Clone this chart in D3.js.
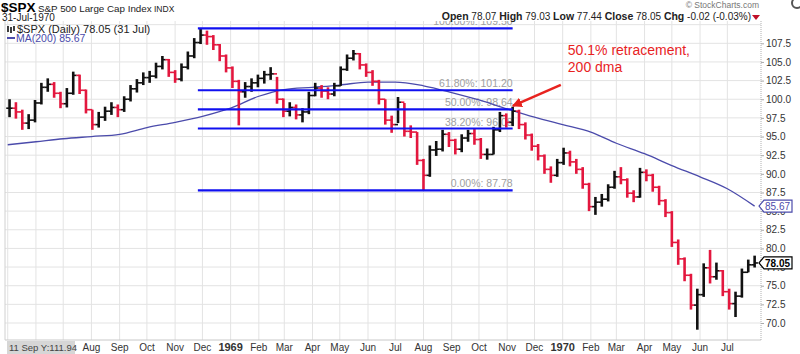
<!DOCTYPE html>
<html>
<head>
<meta charset="utf-8">
<script src="https://cdn.jsdelivr.net/npm/d3@7"></script>
<style>
  body { margin: 0; background: #fff; }
  svg { display: block; font-family: Arial, "Liberation Sans", sans-serif; }
</style>
</head>
<body>
<svg id="chart" width="800" height="354"></svg>
<script>
// weekly bars, first week ends Fri 3 May 1968, last ends Fri 31 Jul 1970
const firstWeek = new Date(1968, 4, 3);

const highs = [
  100.0, 99.6, 98.6, 98.0, 99.9, 102.2, 102.8, 102.3, 101.0, 101.5,
  103.7, 103.3, 101.3, 98.6, 98.3, 99.0, 99.6, 99.3, 100.4, 101.9,
  102.7, 103.6, 103.8, 104.9, 105.8, 105.4, 103.9, 104.8, 106.4, 108.2,
  109.5, 109.2, 108.6, 107.4, 106.0, 104.4, 102.6, 102.3, 102.8, 103.3,
  103.8, 104.3, 103.0, 100.1, 99.6, 99.3, 98.8, 101.0, 102.2, 101.9,
  101.6, 102.2, 104.4, 106.0, 106.6, 106.2, 104.8, 103.9, 102.6, 100.0,
  97.8, 100.3, 99.5, 96.5, 95.6, 92.0, 93.8, 94.4, 95.9, 95.6,
  94.7, 95.3, 95.9, 96.1, 94.8, 93.4, 96.3, 98.3, 98.1, 99.0,
  98.6, 96.9, 95.4, 94.0, 92.6, 91.0, 92.0, 93.5, 93.1, 92.0,
  90.9, 88.8, 86.9, 87.3, 88.6, 90.4, 90.9, 89.4, 87.8, 90.8,
  90.6, 90.0, 88.4, 86.6, 85.0, 81.2, 78.8, 76.6, 74.6, 78.0,
  79.8, 78.1, 77.1, 74.6, 74.2, 77.3, 78.5, 79.03
];
const lows = [
  97.6, 97.4, 95.9, 96.0, 96.9, 99.3, 101.0, 100.2, 98.8, 98.9,
  100.6, 100.7, 98.1, 95.9, 96.2, 97.1, 97.9, 97.6, 98.3, 99.7,
  100.9, 101.9, 102.2, 102.8, 104.0, 103.0, 102.2, 102.4, 104.0, 105.5,
  107.4, 107.3, 106.6, 105.1, 103.6, 101.5, 96.5, 100.2, 101.0, 101.6,
  102.1, 102.6, 99.4, 97.6, 97.7, 97.3, 96.9, 98.0, 100.4, 100.2,
  100.0, 100.4, 101.8, 103.8, 105.2, 104.0, 103.0, 101.8, 99.3, 96.6,
  95.5, 96.8, 95.0, 94.8, 91.2, 87.78, 89.6, 92.4, 93.0, 93.6,
  92.6, 92.9, 94.3, 93.9, 92.0, 91.9, 92.6, 95.6, 96.2, 96.4,
  96.0, 94.6, 93.1, 91.8, 90.0, 88.8, 89.6, 91.2, 91.0, 90.0,
  88.0, 85.0, 84.5, 85.6, 86.3, 88.0, 88.6, 86.8, 86.2, 86.8,
  89.0, 87.6, 85.8, 84.2, 80.2, 77.8, 75.6, 71.8, 69.1, 73.5,
  75.3, 75.8, 73.6, 71.8, 70.8, 73.4, 76.8, 77.44
];
const closes = [
  98.8, 98.3, 96.8, 97.2, 99.5, 101.6, 102.0, 100.8, 99.4, 100.8,
  103.2, 101.2, 98.6, 96.6, 97.6, 98.4, 98.9, 98.6, 100.0, 101.4,
  102.2, 102.9, 103.1, 104.4, 105.3, 103.6, 102.7, 104.3, 105.8, 107.6,
  108.6, 108.4, 107.3, 105.8, 104.2, 102.4, 101.0, 101.7, 102.2, 102.8,
  103.3, 103.4, 100.0, 98.4, 98.9, 97.9, 98.3, 100.5, 101.5, 101.1,
  100.7, 101.8, 104.0, 105.5, 106.1, 104.6, 103.6, 102.4, 100.0, 97.2,
  96.6, 99.6, 95.7, 95.6, 91.8, 89.8, 93.2, 93.3, 95.3, 94.5,
  93.3, 94.8, 95.4, 94.6, 92.6, 92.6, 95.9, 97.8, 96.9, 98.4,
  96.6, 95.2, 93.7, 92.4, 90.6, 89.8, 91.5, 92.8, 91.6, 90.6,
  88.6, 85.6, 86.2, 86.6, 88.2, 89.6, 89.2, 87.4, 86.9, 90.2,
  89.8, 88.2, 86.4, 84.8, 80.8, 78.6, 76.4, 72.4, 73.8, 77.4,
  76.2, 77.0, 74.2, 72.6, 73.6, 76.8, 77.8, 78.05
];

// 200-day moving average, read at month starts
const maDates = [
  "1968-05-01", "1968-06-01", "1968-07-01", "1968-08-01", "1968-09-01", "1968-10-01",
  "1968-11-01", "1968-12-01", "1969-01-01", "1969-02-01", "1969-03-01", "1969-04-01",
  "1969-05-01", "1969-06-01", "1969-07-01", "1969-08-01", "1969-09-01", "1969-10-01",
  "1969-11-01", "1969-12-01", "1970-01-01", "1970-02-01", "1970-03-01", "1970-04-01",
  "1970-05-01", "1970-06-01", "1970-07-01", "1970-07-31"
];
const maValues = [
  93.9, 94.3, 94.7, 95.0, 95.3, 96.2, 96.9, 97.7, 98.8, 100.4, 101.3, 101.6,
  101.9, 102.3, 102.3, 101.8, 100.9, 99.9, 98.7, 97.6, 96.6, 95.6, 94.1, 92.7,
  91.1, 89.6, 88.0, 85.67
];

// Fibonacci retracement
const fibPercents = [0, 38.2, 50, 61.8, 100];
const fibLow = 87.78, fibHigh = 109.50;
const fibFrom = "1968-11-26", fibTo = "1969-11-07";

const yTicks = [70, 72.5, 75, 77.5, 80, 82.5, 85, 87.5, 90, 92.5, 95, 97.5, 100, 102.5, 105, 107.5];

const upColor = "#111", downColor = "#e3173e";
const maColor = "#4b4bab", fibColor = "#1010f0";

const parse = d3.timeParse("%Y-%m-%d");
const svg = d3.select("#chart");
const plot = {left: 5, right: 761, top: 21, bottom: 340};

const x = d3.scaleTime()
  .domain([new Date(1968, 3, 28), new Date(1970, 7, 7)])
  .range([plot.left, plot.right]);
const y = d3.scaleLinear().domain([70, 107.5]).range([323, 43.3]);

const bars = closes.map((c, i) => ({
  date: d3.timeDay.offset(firstWeek, 7 * i),
  high: highs[i], low: lows[i], close: c,
  open: i === 0 ? c : closes[i - 1]
}));

svg.append("defs").append("clipPath").attr("id", "clip")
  .append("rect")
    .attr("x", plot.left).attr("y", plot.top)
    .attr("width", plot.right - plot.left).attr("height", plot.bottom - plot.top);

const g = svg.append("g").attr("clip-path", "url(#clip)");

// grid
const months = d3.timeMonth.range(new Date(1968, 4, 1), new Date(1970, 7, 1));
g.selectAll(".vgrid").data(months).enter().append("line")
  .attr("x1", d => x(d)).attr("x2", d => x(d))
  .attr("y1", plot.top).attr("y2", plot.bottom)
  .attr("stroke", "#e3e3e3");
g.selectAll(".hgrid").data([67.5, ...yTicks, 110]).enter().append("line")
  .attr("x1", plot.left).attr("x2", plot.right)
  .attr("y1", d => y(d)).attr("y2", d => y(d))
  .attr("stroke", "#e3e3e3");

// fib labels sit under the bars
const fibs = fibPercents.map(p => ({p: p, price: fibLow + p / 100 * (fibHigh - fibLow)}));
g.selectAll(".fibtext").data(fibs).enter().append("text")
  .attr("x", x(parse(fibTo)))
  .attr("y", d => y(d.price) - 3)
  .attr("text-anchor", "end")
  .attr("font-size", 10.5)
  .attr("fill", "#a0a0a0")
  .text(d => d3.format(".2f")(d.p) + "%: " + d3.format(".2f")(d.price));

// moving average
g.append("path")
  .datum(maDates.map((d, i) => ({date: parse(d), v: maValues[i]})))
  .attr("fill", "none")
  .attr("stroke", maColor)
  .attr("stroke-width", 1.3)
  .attr("d", d3.line().x(d => x(d.date)).y(d => y(d.v)).curve(d3.curveMonotoneX));

// price bars
const bar = g.selectAll(".bar").data(bars).enter().append("g")
  .attr("stroke", d => d.close >= d.open ? upColor : downColor);
bar.append("line")
  .attr("x1", d => x(d.date)).attr("x2", d => x(d.date))
  .attr("y1", d => y(d.high)).attr("y2", d => y(d.low))
  .attr("stroke-width", 2.6);
bar.append("line")
  .attr("x1", d => x(d.date) - 3.3).attr("x2", d => x(d.date))
  .attr("y1", d => y(d.open)).attr("y2", d => y(d.open))
  .attr("stroke-width", 1.6);
bar.append("line")
  .attr("x1", d => x(d.date)).attr("x2", d => x(d.date) + 3.3)
  .attr("y1", d => y(d.close)).attr("y2", d => y(d.close))
  .attr("stroke-width", 1.6);

// fib lines
g.selectAll(".fib").data(fibs).enter().append("line")
  .attr("x1", x(parse(fibFrom))).attr("x2", x(parse(fibTo)))
  .attr("y1", d => y(d.price)).attr("y2", d => y(d.price))
  .attr("stroke", fibColor)
  .attr("stroke-width", 2.2);

// frame and right axis
svg.append("line").attr("x1", plot.left).attr("x2", plot.right)
  .attr("y1", plot.bottom).attr("y2", plot.bottom).attr("stroke", "#c8c8c8");
svg.append("line").attr("x1", plot.left).attr("x2", plot.left)
  .attr("y1", plot.top).attr("y2", plot.bottom).attr("stroke", "#d0d0d0");
svg.append("line").attr("x1", plot.right).attr("x2", plot.right)
  .attr("y1", plot.top).attr("y2", plot.bottom)
  .attr("stroke", "#b0b0b0").attr("stroke-dasharray", "1,1");

const yAxis = svg.append("g").attr("transform", `translate(${plot.right},0)`)
  .call(d3.axisRight(y).tickValues(yTicks).tickSize(3).tickPadding(2).tickFormat(d3.format(".1f")));
yAxis.select(".domain").remove();
yAxis.selectAll("line").attr("stroke", "#aaa");
yAxis.selectAll("text").attr("font-size", 10).attr("fill", "#333")
  .attr("font-family", "Arial, 'Liberation Sans', sans-serif");

// month labels (May-Jul 1968 sit under the crosshair readout)
svg.selectAll(".mlabel").data(months.filter(d => d >= new Date(1968, 7, 1))).enter().append("text")
  .attr("x", d => x(d))
  .attr("y", 351)
  .attr("text-anchor", "middle")
  .attr("font-size", d => d.getMonth() === 0 ? 11 : 10)
  .attr("font-weight", d => d.getMonth() === 0 ? "bold" : "normal")
  .attr("fill", "#333")
  .text(d => d.getMonth() === 0 ? d3.timeFormat("%Y")(d) : d3.timeFormat("%b")(d));

// crosshair readout box
svg.append("rect").attr("x", 7).attr("y", 341).attr("width", 68).attr("height", 13).attr("fill", "#d6d6d6");
svg.append("text").attr("x", 9).attr("y", 351).attr("font-size", 9.5).attr("fill", "#444").text("11 Sep Y:111.94");

// price tags on the right
function tag(v, color, bold) {
  const cy = y(v);
  svg.append("path")
    .attr("d", `M${plot.right - 2},${cy} L${plot.right + 3},${cy - 6} L${plot.right + 31},${cy - 6} L${plot.right + 31},${cy + 6} L${plot.right + 3},${cy + 6} Z`)
    .attr("fill", "#fff").attr("stroke", color).attr("stroke-width", 1.2);
  svg.append("text").attr("x", plot.right + 4).attr("y", cy + 4)
    .attr("font-size", 10).attr("font-weight", bold ? "bold" : "normal")
    .attr("fill", bold ? "#000" : color).text(d3.format(".2f")(v));
}
tag(maValues[maValues.length - 1], maColor, false);
tag(closes[closes.length - 1], "#000", true);

// header
svg.append("text").attr("x", 1).attr("y", 12).attr("font-size", 13.5).attr("font-weight", "bold").text("$SPX");
svg.append("text").attr("x", 38).attr("y", 12).attr("font-size", 9.8).attr("fill", "#222").text("S&P 500 Large Cap Index");
svg.append("text").attr("x", 154).attr("y", 12).attr("font-size", 8.5).attr("fill", "#222").text("INDX");
svg.append("text").attr("x", 2).attr("y", 21).attr("font-size", 10).attr("fill", "#222").text("31-Jul-1970");

svg.append("text").attr("x", 759).attr("y", 8).attr("text-anchor", "end")
  .attr("font-size", 8.5).attr("fill", "#777").text("\u00a9 StockCharts.com");
svg.append("circle").attr("cx", 797).attr("cy", 3).attr("r", 5).attr("fill", "none").attr("stroke", "#555").attr("stroke-width", 2);

const quote = [["Open", " 78.07 "], ["High", " 79.03 "], ["Low", " 77.44 "], ["Close", " 78.05 "], ["Chg", " -0.02 (-0.03%)"]];
const qt = svg.append("text").attr("x", 751).attr("y", 20).attr("text-anchor", "end")
  .attr("font-size", 10).attr("fill", "#222").attr("xml:space", "preserve");
quote.forEach(q => {
  qt.append("tspan").attr("font-weight", "bold").attr("font-size", 10.5).text(q[0]);
  qt.append("tspan").text(q[1]);
});
svg.append("path").attr("d", "M752,15 L760,15 L756,20 Z").attr("fill", "#c0102a");

// legend
const lg = svg.append("g");
lg.append("line").attr("x1", 8).attr("x2", 8).attr("y1", 26).attr("y2", 32).attr("stroke", "#000").attr("stroke-width", 1.5);
lg.append("line").attr("x1", 11).attr("x2", 11).attr("y1", 27).attr("y2", 33).attr("stroke", "#000").attr("stroke-width", 1.5);
lg.append("line").attr("x1", 14).attr("x2", 14).attr("y1", 26).attr("y2", 31).attr("stroke", "#000").attr("stroke-width", 1.5);
lg.append("text").attr("x", 17).attr("y", 33).attr("font-size", 11).attr("fill", "#222")
  .text("$SPX (Daily) 78.05 (31 Jul)");
lg.append("line").attr("x1", 7).attr("x2", 15).attr("y1", 38).attr("y2", 38).attr("stroke", maColor).attr("stroke-width", 2);
lg.append("text").attr("x", 16).attr("y", 42).attr("font-size", 10.5).attr("fill", maColor)
  .text("MA(200) 85.67");

// annotation
const tipX = x(parse("1969-11-05")), tipY = y(99.1);
svg.append("defs").append("marker")
  .attr("id", "arrow").attr("viewBox", "0 0 10 10").attr("refX", 9).attr("refY", 5)
  .attr("markerWidth", 4).attr("markerHeight", 4).attr("orient", "auto")
  .append("path").attr("d", "M0,0 L10,5 L0,10 Z").attr("fill", "#e8231f");
svg.append("line")
  .attr("x1", tipX + 50).attr("y1", tipY - 21)
  .attr("x2", tipX + 2).attr("y2", tipY)
  .attr("stroke", "#e8231f").attr("stroke-width", 2.5)
  .attr("marker-end", "url(#arrow)");
svg.append("text").attr("x", tipX + 57).attr("y", 55).attr("font-size", 14).attr("fill", "#e8231f")
  .text("50.1% retracement,");
svg.append("text").attr("x", tipX + 57).attr("y", 72).attr("font-size", 14).attr("fill", "#e8231f")
  .text("200 dma");
</script>
</body>
</html>
